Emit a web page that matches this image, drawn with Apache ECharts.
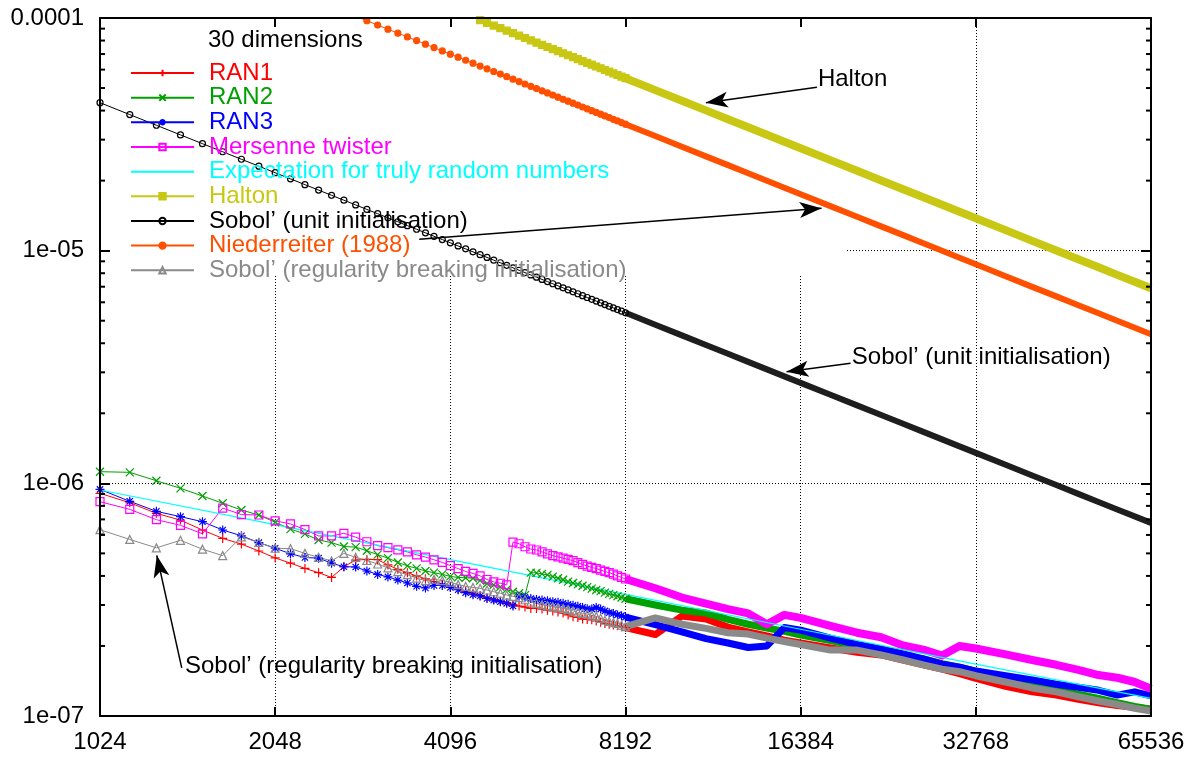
<!DOCTYPE html>
<html>
<head>
<meta charset="utf-8">
<script src="https://cdn.jsdelivr.net/npm/echarts@6/dist/echarts.min.js"></script>
<style>html,body{margin:0;padding:0;background:#fff}#c{width:1200px;height:758px}</style>
</head>
<body>
<div id="c"></div>
<script>
const FONT = "'Liberation Sans', Arial, Helvetica, sans-serif";

// ---------------- data ----------------
const xRange = [1024, 65536];
const yRange = [1e-7, 1e-4];
const xTickLabels = ['1024', '2048', '4096', '8192', '16384', '32768', '65536'];
const yTickValues = [1e-7, 1e-6, 1e-5, 1e-4];
const yTickLabels = ['1e-07', '1e-06', '1e-05', '0.0001'];
const yMinorTicks = [2e-7,3e-7,4e-7,5e-7,6e-7,7e-7,8e-7,9e-7,2e-6,3e-6,4e-6,5e-6,6e-6,7e-6,8e-6,9e-6,2e-5,3e-5,4e-5,5e-5,6e-5,7e-5,8e-5,9e-5];

// sample sizes where individual markers are visible
const sampleN = [1024,1152,1280,1408,1536,1664,1792,1920,2048,2176,2304,2432,2560,2688,2816,2944,3072,3200,3328,3456,3584,3712,3840,3968,4096,4224,4352,4480,4608,4736,4864,4992,5120,5248,5376,5504,5632,5760,5888,6016,6144,6272,6400,6528,6656,6784,6912,7040,7168,7296,7424,7552,7680,7808,7936,8064,8192];
// sample sizes of the dense part (markers merged into a band)
const denseN = [8192,9216,10240,11264,12288,13312,14336,15360,16384,18432,20480,22528,24576,26624,28672,30720,32768,36864,40960,45056,49152,53248,57344,61440,65536];

const ran1Sparse = [9.06e-7,8.25e-7,7.43e-7,6.95e-7,6.30e-7,5.80e-7,5.48e-7,5.12e-7,4.78e-7,4.54e-7,4.31e-7,4.13e-7,3.94e-7,4.38e-7,4.68e-7,4.71e-7,4.70e-7,4.46e-7,4.27e-7,4.13e-7,4.00e-7,3.89e-7,3.78e-7,3.69e-7,3.59e-7,3.51e-7,3.44e-7,3.37e-7,3.29e-7,3.22e-7,3.17e-7,3.12e-7,3.07e-7,3.01e-7,2.97e-7,2.94e-7,2.90e-7,2.90e-7,2.88e-7,2.85e-7,2.83e-7,2.80e-7,2.77e-7,2.72e-7,2.67e-7,2.65e-7,2.61e-7,2.60e-7,2.59e-7,2.56e-7,2.53e-7,2.50e-7,2.48e-7,2.46e-7,2.44e-7,2.42e-7,2.40e-7];
const ran1Dense = [2.40e-7,2.24e-7,2.69e-7,2.61e-7,2.41e-7,2.30e-7,2.21e-7,2.12e-7,2.06e-7,1.96e-7,1.88e-7,1.83e-7,1.74e-7,1.66e-7,1.59e-7,1.52e-7,1.45e-7,1.34e-7,1.27e-7,1.23e-7,1.18e-7,1.14e-7,1.11e-7,1.09e-7,1.07e-7];

const ran2Sparse = [1.122e-6,1.115e-6,1.026e-6,9.52e-7,8.82e-7,8.21e-7,7.68e-7,7.31e-7,6.80e-7,6.36e-7,6.06e-7,5.71e-7,5.56e-7,5.35e-7,5.32e-7,5.13e-7,4.94e-7,4.77e-7,4.57e-7,4.42e-7,4.31e-7,4.20e-7,4.13e-7,4.06e-7,3.98e-7,3.94e-7,3.93e-7,3.91e-7,3.82e-7,3.71e-7,3.66e-7,3.59e-7,3.50e-7,3.42e-7,3.37e-7,3.31e-7,4.13e-7,4.12e-7,4.08e-7,4.04e-7,3.97e-7,3.91e-7,3.85e-7,3.78e-7,3.73e-7,3.68e-7,3.63e-7,3.58e-7,3.53e-7,3.48e-7,3.44e-7,3.39e-7,3.35e-7,3.31e-7,3.27e-7,3.23e-7,3.19e-7];
const ran2Dense = [3.19e-7,3.00e-7,2.85e-7,2.77e-7,2.60e-7,2.48e-7,2.39e-7,2.31e-7,2.23e-7,2.11e-7,2.00e-7,1.90e-7,1.81e-7,1.76e-7,1.68e-7,1.62e-7,1.56e-7,1.46e-7,1.36e-7,1.29e-7,1.24e-7,1.19e-7,1.14e-7,1.10e-7,1.07e-7];

const ran3Sparse = [9.42e-7,8.37e-7,7.58e-7,7.19e-7,6.84e-7,6.30e-7,5.95e-7,5.56e-7,5.26e-7,4.98e-7,4.80e-7,4.77e-7,4.54e-7,4.38e-7,4.37e-7,4.20e-7,4.06e-7,3.96e-7,3.84e-7,3.73e-7,3.61e-7,3.55e-7,3.64e-7,3.64e-7,3.57e-7,3.49e-7,3.39e-7,3.32e-7,3.28e-7,3.20e-7,3.15e-7,3.10e-7,3.05e-7,2.97e-7,3.27e-7,3.24e-7,3.20e-7,3.17e-7,3.15e-7,3.13e-7,3.10e-7,3.08e-7,3.05e-7,3.02e-7,2.99e-7,2.96e-7,2.93e-7,2.89e-7,2.88e-7,2.93e-7,2.88e-7,2.83e-7,2.78e-7,2.76e-7,2.72e-7,2.70e-7,2.66e-7];
const ran3Dense = [2.66e-7,2.47e-7,2.30e-7,2.15e-7,2.06e-7,1.97e-7,2.00e-7,2.40e-7,2.34e-7,2.16e-7,2.03e-7,1.94e-7,1.85e-7,1.76e-7,1.67e-7,1.62e-7,1.56e-7,1.49e-7,1.43e-7,1.37e-7,1.33e-7,1.29e-7,1.23e-7,1.27e-7,1.22e-7];

const mtSparse = [8.34e-7,7.73e-7,6.98e-7,6.60e-7,6.07e-7,7.83e-7,7.34e-7,7.31e-7,6.90e-7,6.69e-7,6.33e-7,5.94e-7,5.94e-7,6.10e-7,5.87e-7,5.61e-7,5.40e-7,5.29e-7,5.18e-7,5.07e-7,4.93e-7,4.82e-7,4.69e-7,4.57e-7,4.43e-7,4.30e-7,4.18e-7,4.10e-7,4.00e-7,3.86e-7,3.77e-7,3.72e-7,3.66e-7,5.59e-7,5.50e-7,5.34e-7,5.22e-7,5.17e-7,5.07e-7,4.98e-7,4.89e-7,4.83e-7,4.77e-7,4.71e-7,4.65e-7,4.56e-7,4.48e-7,4.41e-7,4.35e-7,4.30e-7,4.24e-7,4.18e-7,4.13e-7,4.07e-7,4.00e-7,3.94e-7,3.88e-7];
const mtDense = [3.88e-7,3.54e-7,3.23e-7,3.04e-7,2.88e-7,2.76e-7,2.48e-7,2.72e-7,2.64e-7,2.44e-7,2.28e-7,2.18e-7,2.01e-7,1.93e-7,1.82e-7,2.00e-7,1.95e-7,1.84e-7,1.74e-7,1.66e-7,1.58e-7,1.50e-7,1.46e-7,1.40e-7,1.31e-7];

const expectN = [1024,2048,4096,8192,16384,32768,65536];
const expectV = [9.36e-7,6.64e-7,4.70e-7,3.33e-7,2.36e-7,1.67e-7,1.19e-7];

const haltonSparse = [null,null,null,null,null,null,null,null,null,null,null,null,null,null,null,null,null,null,null,null,null,null,null,null,null,null,null,1.0078e-4,9.798e-5,9.533e-5,9.282e-5,9.044e-5,8.818e-5,8.603e-5,8.398e-5,8.203e-5,8.017e-5,7.838e-5,7.668e-5,7.505e-5,7.349e-5,7.199e-5,7.055e-5,6.916e-5,6.783e-5,6.655e-5,6.532e-5,6.413e-5,6.299e-5,6.188e-5,6.082e-5,5.978e-5,5.879e-5,5.782e-5,5.689e-5,5.599e-5,5.511e-5];
const haltonDense = [5.511e-5,4.899e-5,4.409e-5,4.008e-5,3.674e-5,3.392e-5,3.149e-5,2.939e-5,2.756e-5,2.450e-5,2.205e-5,2.004e-5,1.837e-5,1.696e-5,1.575e-5,1.470e-5,1.378e-5,1.225e-5,1.102e-5,1.002e-5,9.19e-6,8.48e-6,7.87e-6,7.35e-6,6.89e-6];

const sobolSparse = [4.325e-5,3.844e-5,3.46e-5,3.145e-5,2.883e-5,2.662e-5,2.471e-5,2.307e-5,2.163e-5,2.035e-5,1.922e-5,1.821e-5,1.73e-5,1.648e-5,1.573e-5,1.504e-5,1.442e-5,1.384e-5,1.331e-5,1.281e-5,1.236e-5,1.193e-5,1.153e-5,1.116e-5,1.081e-5,1.048e-5,1.018e-5,9.886e-6,9.611e-6,9.351e-6,9.105e-6,8.872e-6,8.65e-6,8.439e-6,8.238e-6,8.047e-6,7.864e-6,7.689e-6,7.522e-6,7.362e-6,7.208e-6,7.061e-6,6.92e-6,6.784e-6,6.654e-6,6.528e-6,6.407e-6,6.291e-6,6.179e-6,6.07e-6,5.966e-6,5.864e-6,5.767e-6,5.672e-6,5.581e-6,5.492e-6,5.406e-6];
const sobolDense = [5.406e-6,4.806e-6,4.325e-6,3.932e-6,3.604e-6,3.327e-6,3.089e-6,2.883e-6,2.703e-6,2.403e-6,2.163e-6,1.966e-6,1.802e-6,1.664e-6,1.545e-6,1.442e-6,1.352e-6,1.201e-6,1.081e-6,9.83e-7,9.01e-7,8.32e-7,7.72e-7,7.21e-7,6.76e-7];

const niederSparse = [null,null,null,null,null,null,null,null,null,null,null,null,null,null,1.0174e-4,9.732e-5,9.326e-5,8.953e-5,8.609e-5,8.29e-5,7.994e-5,7.718e-5,7.461e-5,7.22e-5,6.994e-5,6.783e-5,6.583e-5,6.395e-5,6.217e-5,6.049e-5,5.89e-5,5.739e-5,5.596e-5,5.459e-5,5.329e-5,5.205e-5,5.087e-5,4.974e-5,4.866e-5,4.762e-5,4.663e-5,4.568e-5,4.476e-5,4.389e-5,4.304e-5,4.223e-5,4.145e-5,4.07e-5,3.997e-5,3.927e-5,3.859e-5,3.794e-5,3.731e-5,3.669e-5,3.61e-5,3.553e-5,3.497e-5];
const niederDense = [3.497e-5,3.109e-5,2.798e-5,2.543e-5,2.332e-5,2.152e-5,1.998e-5,1.865e-5,1.749e-5,1.554e-5,1.399e-5,1.272e-5,1.166e-5,1.076e-5,9.99e-6,9.33e-6,8.74e-6,7.77e-6,6.99e-6,6.36e-6,5.83e-6,5.38e-6,5.00e-6,4.66e-6,4.37e-6];

const sobolRbSparse = [6.32e-7,5.74e-7,5.28e-7,5.69e-7,5.21e-7,4.89e-7,5.89e-7,5.57e-7,5.26e-7,5.24e-7,5.00e-7,4.81e-7,4.64e-7,5.00e-7,4.81e-7,4.66e-7,4.50e-7,4.33e-7,4.17e-7,4.05e-7,3.91e-7,3.82e-7,3.87e-7,3.82e-7,3.76e-7,3.67e-7,3.61e-7,3.57e-7,3.54e-7,3.48e-7,3.42e-7,3.37e-7,3.31e-7,3.27e-7,3.23e-7,3.16e-7,3.09e-7,3.05e-7,3.01e-7,2.98e-7,2.95e-7,2.93e-7,2.90e-7,2.87e-7,2.83e-7,2.79e-7,2.76e-7,2.74e-7,2.71e-7,2.68e-7,2.63e-7,2.58e-7,2.55e-7,2.52e-7,2.50e-7,2.46e-7,2.42e-7];
const sobolRbDense = [2.42e-7,2.64e-7,2.48e-7,2.38e-7,2.28e-7,2.25e-7,2.16e-7,2.09e-7,2.03e-7,1.92e-7,1.92e-7,1.83e-7,1.74e-7,1.66e-7,1.59e-7,1.55e-7,1.49e-7,1.40e-7,1.32e-7,1.27e-7,1.21e-7,1.16e-7,1.12e-7,1.08e-7,1.05e-7];

// annotations (data coordinates): label anchors, arrow tails and arrow tips
const annoTexts = ['Halton', 'Sobol\u2019 (unit initialisation)', 'Sobol\u2019 (regularity breaking initialisation)'];
const annoTextN = [17541, 20061, 1433];
const annoTextV = [5.44e-5, 3.49e-6, 1.642e-7];
const arrowFromN = [17470, 3622, 19958, 1415];
const arrowFromV = [5.04e-5, 1.119e-5, 3.28e-6, 1.61e-7];
const arrowToN = [11260, 17797, 15494, 1282];
const arrowToV = [4.325e-5, 1.521e-5, 3.02e-6, 4.90e-7];

// ---------------- styles ----------------
const SYM_PLUS = 'path://M0,5L10,5M5,0L5,10';
const SYM_CROSS = 'path://M0,0L10,10M10,0L0,10';
const SYM_STAR = 'path://M0,5L10,5M5,0L5,10M1.5,1.5L8.5,8.5M8.5,1.5L1.5,8.5';
const SYM_OSQUARE = 'path://M0,0L10,0L10,10L0,10Z';
const SYM_OCIRCLE = 'path://M10,5A5,5,0,1,1,0,5A5,5,0,1,1,10,5Z';
const SYM_OTRI = 'path://M5,0L10,8.66L0,8.66Z';
const CLEAR = 'rgba(0,0,0,0)';

const specs = [
  {name: 'RAN1', color: '#ff0000', symbol: SYM_PLUS, size: 9, fill: CLEAR, sparse: ran1Sparse, dense: ran1Dense, band: 7},
  {name: 'RAN2', color: '#00a000', symbol: SYM_CROSS, size: 8, fill: CLEAR, sparse: ran2Sparse, dense: ran2Dense, band: 7},
  {name: 'RAN3', color: '#0000ff', symbol: SYM_STAR, size: 9, fill: CLEAR, sparse: ran3Sparse, dense: ran3Dense, band: 7},
  {name: 'Mersenne twister', color: '#ff00ff', symbol: SYM_OSQUARE, size: 8, fill: CLEAR, sparse: mtSparse, dense: mtDense, band: 8},
  {name: 'Expectation for truly random numbers', color: '#00ffff', expect: true},
  {name: 'Halton', color: '#c8c814', symbol: 'rect', size: 7, fill: '#c8c814', sparse: haltonSparse, dense: haltonDense, band: 8},
  {name: 'Sobol\u2019 (unit initialisation)', color: '#000000', symbol: SYM_OCIRCLE, size: 6, fill: CLEAR, sparse: sobolSparse, dense: sobolDense, band: 6, bandColor: '#1e1e1e'},
  {name: 'Niederreiter (1988)', color: '#ff5000', symbol: 'circle', size: 6, fill: '#ff5000', sparse: niederSparse, dense: niederDense, band: 6},
  {name: 'Sobol\u2019 (regularity breaking initialisation)', color: '#8a8a8a', symbol: SYM_OTRI, size: 8, fill: CLEAR, sparse: sobolRbSparse, dense: sobolRbDense, band: 7}
];

function pairs(xs, ys) {
  const out = [];
  xs.forEach((x, i) => { if (ys[i] != null) out.push([x, ys[i]]); });
  return out;
}

const series = [];
specs.forEach(s => {
  if (s.expect) {
    series.push({
      type: 'line', name: s.name, data: pairs(expectN, expectV),
      symbol: 'none', showSymbol: false, silent: true, z: 2,
      lineStyle: {color: s.color, width: 1.2}, itemStyle: {color: s.color},
      emphasis: {disabled: true}
    });
    return;
  }
  series.push({
    type: 'line', name: s.name, data: pairs(sampleN, s.sparse),
    symbol: s.symbol, symbolSize: s.size, showSymbol: true, showAllSymbol: true,
    clip: true, silent: true, z: 2,
    lineStyle: {color: s.color, width: 1},
    itemStyle: {color: s.fill, borderColor: s.color, borderWidth: 1.2},
    emphasis: {disabled: true}
  });
  series.push({
    type: 'line', name: s.name, data: pairs(denseN, s.dense),
    symbol: 'none', showSymbol: false, clip: true, silent: true, z: 2,
    lineStyle: {color: s.bandColor || s.color, width: s.band, join: 'round', cap: 'butt'},
    itemStyle: {color: s.color},
    emphasis: {disabled: true}
  });
});

// annotations (labels + arrows)
series.push({
  type: 'line', name: '__annotations', data: [], silent: true, z: 4,
  markPoint: {
    silent: true, animation: false, symbol: 'circle', symbolSize: 0,
    itemStyle: {color: CLEAR},
    label: {show: true, position: 'right', distance: 0, color: '#000', fontSize: 24, fontFamily: FONT, formatter: '{b}'},
    data: annoTexts.map((t, i) => ({name: t, coord: [annoTextN[i], annoTextV[i]]}))
  },
  markLine: {
    silent: true, animation: false, symbol: ['none', 'arrow'],
    lineStyle: {color: '#000', width: 1.5, type: 'solid'},
    label: {show: false}, emphasis: {disabled: true},
    data: arrowFromN.map((n, i) => [
      {coord: [n, arrowFromV[i]], symbol: 'none'},
      {coord: [arrowToN[i], arrowToV[i]], symbol: 'arrow', symbolSize: [12, 22]}
    ])
  }
});

// minor ticks of the log y axis (left and right borders)
series.push({
  type: 'custom', name: '__minorTicks', silent: true, z: 5, clip: false,
  data: yMinorTicks.map(v => [xRange[0], v]),
  renderItem: (params, api) => {
    const v = api.value(1);
    const l = api.coord([xRange[0], v]);
    const r = api.coord([xRange[1], v]);
    return {type: 'group', children: [
      {type: 'line', shape: {x1: l[0], y1: l[1], x2: l[0] + 5, y2: l[1]}, style: {stroke: '#000', lineWidth: 2}},
      {type: 'line', shape: {x1: r[0] - 5, y1: r[1], x2: r[0], y2: r[1]}, style: {stroke: '#000', lineWidth: 2}}
    ]};
  }
});

// ---------------- axes ----------------
const xBase = {type: 'log', logBase: 2, min: xRange[0], max: xRange[1], interval: 1, splitNumber: 6};
const yBase = {type: 'log', logBase: 10, min: yRange[0], max: yRange[1], interval: 1, splitNumber: 3};
const borderLine = {show: true, onZero: false, lineStyle: {color: '#000', width: 2}};
const gridLine = {show: true, lineStyle: {color: '#000', width: 1, type: [1, 2]}};

function xLabel(v) {
  const i = Math.round(Math.log2(v)) - Math.round(Math.log2(xRange[0]));
  return xTickLabels[i] || '';
}
function yLabel(v) {
  const e = Math.round(Math.log10(v));
  const i = yTickValues.findIndex(t => Math.round(Math.log10(t)) === e);
  return i >= 0 ? yTickLabels[i] : '';
}

const xAxis = [
  Object.assign({}, xBase, {position: 'bottom', z: 3, axisLine: borderLine,
    axisTick: {show: true, inside: true, length: 9, lineStyle: {color: '#000', width: 2}},
    axisLabel: {show: true, margin: 14, color: '#000', fontSize: 24, fontFamily: FONT, formatter: xLabel, showMinLabel: true, showMaxLabel: true},
    splitLine: {show: false}}),
  Object.assign({}, xBase, {position: 'top', z: 3, axisLine: borderLine,
    axisTick: {show: true, inside: true, length: 9, lineStyle: {color: '#000', width: 2}},
    axisLabel: {show: false}, splitLine: {show: false}}),
  Object.assign({}, xBase, {position: 'bottom', z: 0, axisLine: {show: false}, axisTick: {show: false},
    axisLabel: {show: false}, splitLine: gridLine})
];
const yAxis = [
  Object.assign({}, yBase, {position: 'left', z: 3, axisLine: borderLine,
    axisTick: {show: true, inside: true, length: 10, lineStyle: {color: '#000', width: 2}},
    axisLabel: {show: true, margin: 16, color: '#000', fontSize: 24, fontFamily: FONT, formatter: yLabel, showMinLabel: true, showMaxLabel: true},
    splitLine: {show: false}}),
  Object.assign({}, yBase, {position: 'right', z: 3, axisLine: borderLine,
    axisTick: {show: true, inside: true, length: 10, lineStyle: {color: '#000', width: 2}},
    axisLabel: {show: false}, splitLine: {show: false}}),
  Object.assign({}, yBase, {position: 'left', z: 0, axisLine: {show: false}, axisTick: {show: false},
    axisLabel: {show: false}, splitLine: gridLine})
];

// ---------------- legend (one component per row) ----------------
const legend = specs.map((s, i) => Object.assign({
  data: [{name: s.name}],
  left: 130, top: 61 + i * 24.66,
  orient: 'vertical', itemWidth: 63, itemHeight: 8, itemGap: 0, padding: 0,
  selectedMode: false,
  textStyle: {color: s.color, fontSize: 24, fontFamily: FONT, padding: [0, 0, 0, 10]}
}, s.expect ? {itemStyle: {opacity: 0}} : {}));

const option = {
  animation: false,
  backgroundColor: '#ffffff',
  title: {text: '30 dimensions', left: 208, top: 28, padding: 0,
    textStyle: {color: '#000', fontSize: 24, fontWeight: 'normal', fontFamily: FONT}},
  grid: {left: 100, top: 18, width: 1051, height: 698, containLabel: false, outerBoundsMode: 'none'},
  xAxis: xAxis,
  yAxis: yAxis,
  legend: legend,
  graphic: {elements: [
    {type: 'rect', shape: {x: 100, y: 18, width: 745, height: 258}, style: {fill: '#ffffff'}, z: 1, silent: true}
  ]},
  series: series
};

const chart = echarts.init(document.getElementById('c'), null, {renderer: 'canvas', width: 1200, height: 758});
chart.setOption(option);
</script>
</body>
</html>
